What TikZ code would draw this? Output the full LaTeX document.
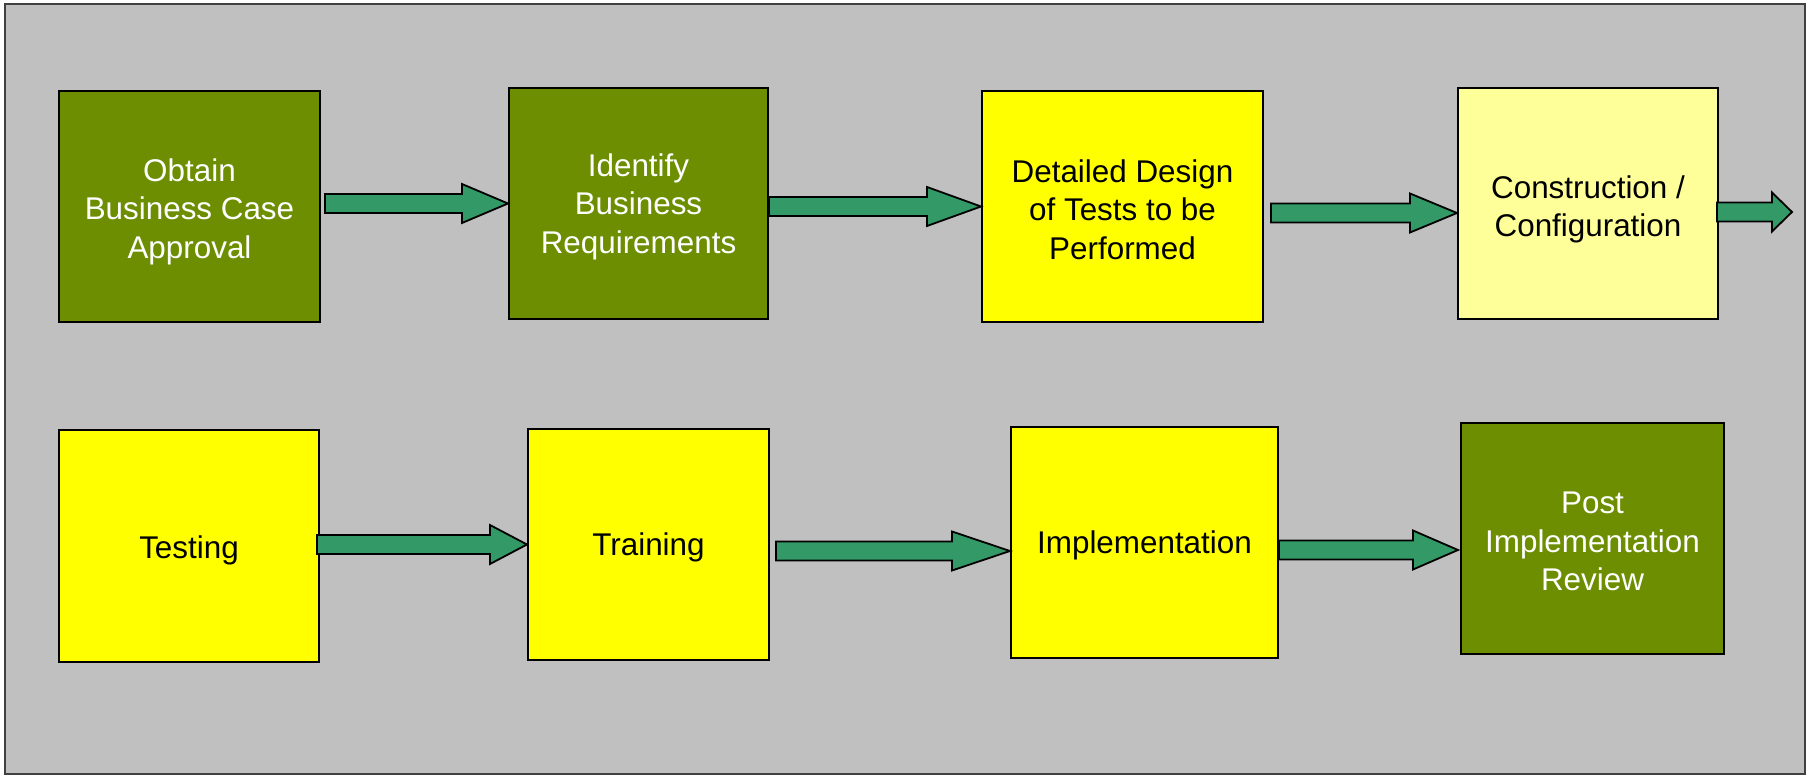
\documentclass[tikz,border=0pt]{standalone}
\usepackage{fontspec}
\setmainfont{Liberation Sans}
\usetikzlibrary{calc}
\definecolor{olive}{RGB}{108,142,0}
\definecolor{pureyellow}{RGB}{255,255,0}
\definecolor{ltyellow}{RGB}{255,255,153}
\definecolor{bggray}{RGB}{192,192,192}
\definecolor{framegray}{RGB}{64,64,64}
\definecolor{arrgreen}{RGB}{51,153,102}
\tikzset{
  stage/.style={draw=black, line width=1pt, rectangle, inner sep=0pt, minimum height=115.5pt},
  olivebox/.style={stage, fill=olive},
  yellowbox/.style={stage, fill=pureyellow},
  paleyellowbox/.style={stage, fill=ltyellow},
  stagetext/.style={align=center, inner sep=0pt, font=\fontsize{15.7pt}{19.2pt}\selectfont},
  whitetext/.style={stagetext, text=white},
  blacktext/.style={stagetext, text=black},
  flowarr/.style={draw=black, line width=0.9pt, fill=arrgreen, line join=miter}
}
\newcommand\flowarrow[3]{%
  \draw[flowarr] let \p1=(#1), \p2=(#2) in
    (\x1,\y2+4.75pt) -- (\x2-#3,\y2+4.75pt) -- (\x2-#3,\y2+9.75pt) -- (\x2,\y2)
    -- (\x2-#3,\y2-9.75pt) -- (\x2-#3,\y2-4.75pt) -- (\x1,\y2-4.75pt) -- cycle;}
\begin{document}
\begin{tikzpicture}[x=0.5pt,y=-0.5pt]
\useasboundingbox (0,0) rectangle (1810,775);
\fill[white] (0,0) rectangle (1810,775);
\draw[draw=framegray, line width=1pt, fill=bggray] (5,4) rectangle (1805,774);

\node[olivebox, minimum width=130.5pt] (b1) at (189.5,206.5) {};
\node[olivebox, minimum width=129.5pt] (b2) at (638.5,203.5) {};
\node[yellowbox, minimum width=140.5pt] (b3) at (1122.5,206.5) {};
\node[paleyellowbox, minimum width=130pt] (b4) at (1588,203.5) {};
\coordinate (c4) at (1792,212);

\node[yellowbox, minimum width=130pt, minimum height=116pt] (b5) at (189,546) {};
\node[yellowbox, minimum width=120.5pt] (b6) at (648.5,544.5) {};
\node[yellowbox, minimum width=133.5pt] (b7) at (1144.5,542.5) {};
\node[olivebox, minimum width=131.5pt] (b8) at (1592.5,538.5) {};

\node[whitetext] (t1) at ($(b1.center)+(0,5)$) {Obtain\\Business Case\\Approval};
\node[whitetext] (t2) at ($(b2.center)+(0,3)$) {Identify\\Business\\Requirements};
\node[blacktext] (t3) at ($(b3.center)+(0,3)$) {Detailed Design\\of Tests to be\\Performed};
\node[blacktext] (t4) at ($(b4.center)+(0,6)$) {Construction /\\Configuration};
\node[blacktext] (t5) at ($(b5.center)+(0,4)$) {Testing};
\node[blacktext] (t6) at ($(b6.center)+(0,3)$) {Training};
\node[blacktext] (t7) at ($(b7.center)+(0,3)$) {Implementation};
\node[whitetext] (t8) at ($(b8.center)+(0,3)$) {Post\\Implementation\\Review};

\flowarrow{$(b1.east)+(4,0)$}{b2.west}{23pt}
\flowarrow{b2.east}{b3.west}{27pt}
\flowarrow{$(b3.east)+(7,0)$}{$(b4.west)+(0,9.5)$}{23.5pt}
\flowarrow{$(b4.east)+(-2,0)$}{c4}{10pt}
\flowarrow{$(b5.east)+(-3,0)$}{b6.west}{18.5pt}
\flowarrow{$(b6.east)+(6,0)$}{$(b7.west)+(0,8.5)$}{29pt}
\flowarrow{b7.east}{$(b8.west)+(-2,11.5)$}{22.5pt}
\end{tikzpicture}
\end{document}
